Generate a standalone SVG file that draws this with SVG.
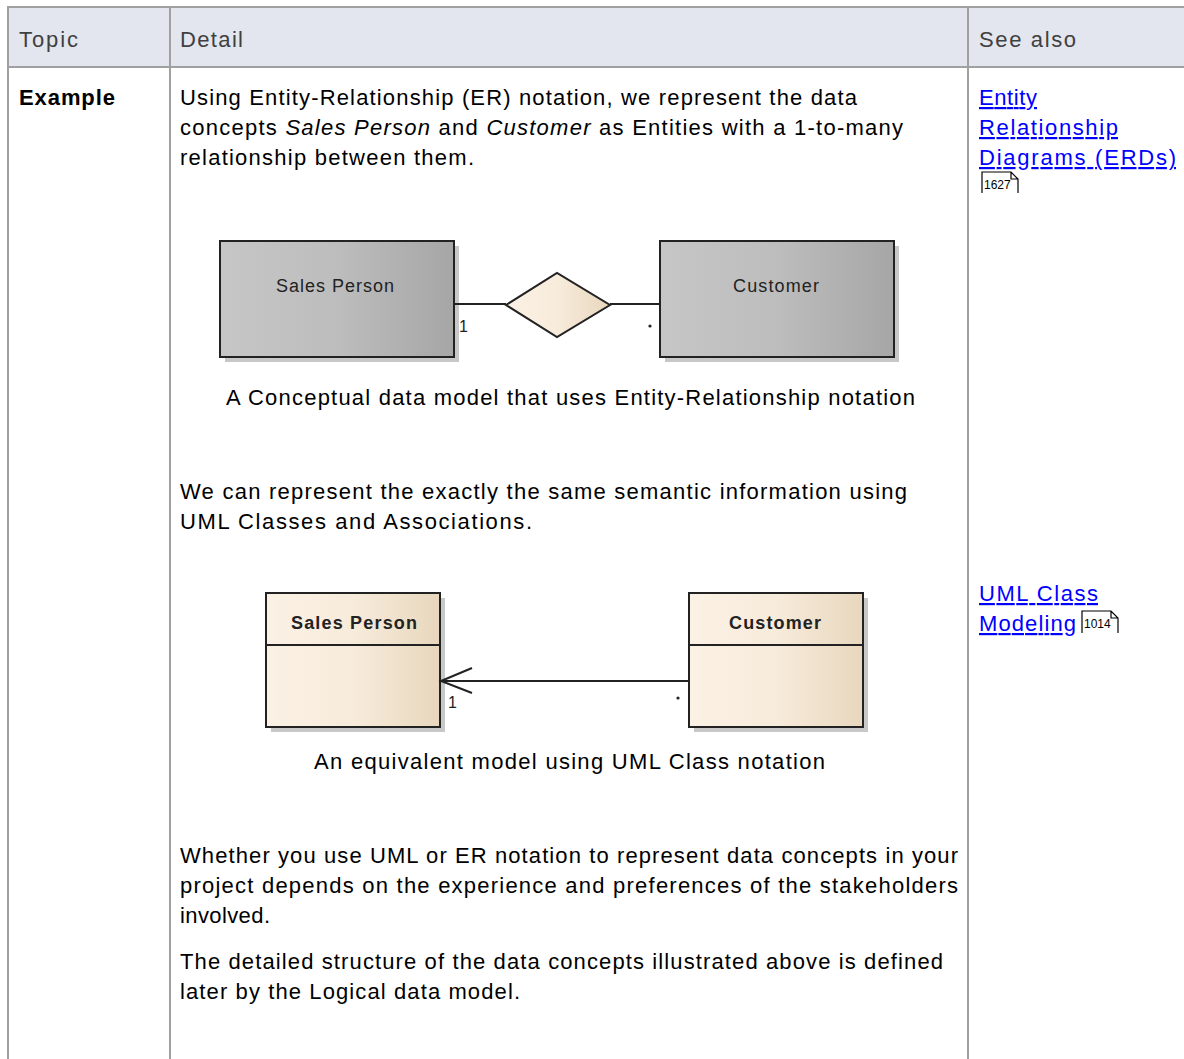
<svg xmlns="http://www.w3.org/2000/svg" width="1184" height="1059" viewBox="0 0 1184 1059">
<style>
.t{font-family:"Liberation Sans",Arial,sans-serif;font-size:22px;fill:#000}
.h{font-family:"Liberation Sans",Arial,sans-serif;font-size:22px;fill:#404040}
.lk{font-family:"Liberation Sans",Arial,sans-serif;font-size:22px;fill:#0000ff;text-decoration:underline}
.pg{font-family:"Liberation Sans",Arial,sans-serif;font-size:12px;fill:#000}
.grid{stroke:#a0a0a0;stroke-width:2;fill:none}
.lbl{font-family:"Liberation Sans",Arial,sans-serif;font-size:18px;fill:#222}
.lblb{font-family:"Liberation Sans",Arial,sans-serif;font-size:18px;font-weight:bold;fill:#222}
.m{font-family:"Liberation Sans",Arial,sans-serif;font-size:16px;fill:#222}
.box{stroke:#222;stroke-width:2}
.conn{stroke:#222;stroke-width:2;fill:none}
.shadow{fill:#c8c8c8}
</style>
<defs>
<linearGradient id="gGrey" x1="0" y1="0" x2="1" y2="0">
<stop offset="0" stop-color="#c6c6c6"/><stop offset="0.5" stop-color="#bdbdbd"/><stop offset="1" stop-color="#a6a6a6"/>
</linearGradient>
<linearGradient id="gCream" x1="0" y1="0" x2="1" y2="0">
<stop offset="0" stop-color="#fbf1e4"/><stop offset="0.5" stop-color="#f7ebdb"/><stop offset="1" stop-color="#e8d7bd"/>
</linearGradient>
</defs>
<rect width="1184" height="1059" fill="#fff"/>
<g id="table">
<rect x="8" y="8" width="1180" height="59" fill="#e3e6ee"/>
<line class="grid" x1="8" y1="7" x2="1184" y2="7"/>
<line class="grid" x1="8" y1="67" x2="1184" y2="67"/>
<line class="grid" x1="8" y1="6" x2="8" y2="1059"/>
<line class="grid" x1="170" y1="6" x2="170" y2="1059"/>
<line class="grid" x1="968" y1="6" x2="968" y2="1059"/>
<text class="h" x="19" y="47" textLength="59" lengthAdjust="spacing">Topic</text>
<text class="h" x="180" y="47" textLength="63" lengthAdjust="spacing">Detail</text>
<text class="h" x="979" y="47" textLength="97" lengthAdjust="spacing">See also</text>
<text class="t" x="19" y="105" font-weight="bold" textLength="96" lengthAdjust="spacing">Example</text>
</g>
<g id="detail-text">
<text class="t" x="180" y="105" textLength="677" lengthAdjust="spacing">Using Entity-Relationship (ER) notation, we represent the data</text>
<text class="t" x="180" y="135" textLength="723" lengthAdjust="spacing">concepts <tspan font-style="italic">Sales Person</tspan> and <tspan font-style="italic">Customer</tspan> as Entities with a 1-to-many</text>
<text class="t" x="180" y="165" textLength="294" lengthAdjust="spacing">relationship between them.</text>
<text class="t" x="226" y="405" textLength="689" lengthAdjust="spacing">A Conceptual data model that uses Entity-Relationship notation</text>
<text class="t" x="180" y="499" textLength="727" lengthAdjust="spacing">We can represent the exactly the same semantic information using</text>
<text class="t" x="180" y="529" textLength="352" lengthAdjust="spacing">UML Classes and Associations.</text>
<text class="t" x="314" y="769" textLength="511" lengthAdjust="spacing">An equivalent model using UML Class notation</text>
<text class="t" x="180" y="863" textLength="778" lengthAdjust="spacing">Whether you use UML or ER notation to represent data concepts in your</text>
<text class="t" x="180" y="893" textLength="778" lengthAdjust="spacing">project depends on the experience and preferences of the stakeholders</text>
<text class="t" x="180" y="923" textLength="90" lengthAdjust="spacing">involved.</text>
<text class="t" x="180" y="969" textLength="763" lengthAdjust="spacing">The detailed structure of the data concepts illustrated above is defined</text>
<text class="t" x="180" y="999" textLength="340" lengthAdjust="spacing">later by the Logical data model.</text>
</g>
<g id="see-also">
<text class="lk" x="979" y="105" textLength="58" lengthAdjust="spacing">Entity</text>
<text class="lk" x="979" y="135" textLength="139" lengthAdjust="spacing">Relationship</text>
<text class="lk" x="979" y="165" textLength="197" lengthAdjust="spacing">Diagrams (ERDs)</text>
<path d="M982 193 V172 H1011 L1018 179 V193 M1011 172 V179 H1018" fill="none" stroke="#000" stroke-width="1.2"/>
<text class="pg" x="984" y="189">1627</text>
<text class="lk" x="979" y="601" textLength="119" lengthAdjust="spacing">UML Class</text>
<text class="lk" x="979" y="631" textLength="97" lengthAdjust="spacing">Modeling</text>
<path d="M1082 633 V611 H1111 L1118 618 V633 M1111 611 V618 H1118" fill="none" stroke="#000" stroke-width="1.2"/>
<text class="pg" x="1084" y="628">1014</text>
</g>
<g id="er-sales-person">
<rect class="shadow" x="225" y="246" width="234" height="116"/>
<rect class="box" x="220" y="241" width="234" height="116" fill="url(#gGrey)"/>
<text class="lbl" x="276" y="292" textLength="118" lengthAdjust="spacing">Sales Person</text>
</g>
<g id="er-relationship">
<polygon class="box" points="506,305 557,273 610,305 557,337" fill="url(#gCream)"/>
</g>
<g id="er-customer">
<rect class="shadow" x="665" y="246" width="234" height="116"/>
<rect class="box" x="660" y="241" width="234" height="116" fill="url(#gGrey)"/>
<text class="lbl" x="733" y="292" textLength="86" lengthAdjust="spacing">Customer</text>
</g>
<g id="uml-sales-person">
<rect class="shadow" x="271" y="598" width="174" height="134"/>
<rect class="box" x="266" y="593" width="174" height="134" fill="url(#gCream)"/>
<line class="box" x1="266" y1="645" x2="440" y2="645"/>
<text class="lblb" x="291" y="629" textLength="126" lengthAdjust="spacing">Sales Person</text>
</g>
<g id="uml-customer">
<rect class="shadow" x="694" y="598" width="174" height="134"/>
<rect class="box" x="689" y="593" width="174" height="134" fill="url(#gCream)"/>
<line class="box" x1="689" y1="645" x2="863" y2="645"/>
<text class="lblb" x="729" y="629" textLength="92" lengthAdjust="spacing">Customer</text>
</g>
<g id="connectors">
<line class="conn" x1="455" y1="304" x2="506" y2="304"/>
<line class="conn" x1="610" y1="304" x2="659" y2="304"/>
<text class="m" x="459" y="332">1</text>
<circle cx="650" cy="326" r="1.6" fill="#222"/>
<line class="conn" x1="441" y1="681" x2="688" y2="681"/>
<polyline class="conn" points="472,668 441,681 472,693"/>
<text class="m" x="448" y="708">1</text>
<circle cx="678" cy="698" r="1.6" fill="#222"/>
</g>
</svg>
